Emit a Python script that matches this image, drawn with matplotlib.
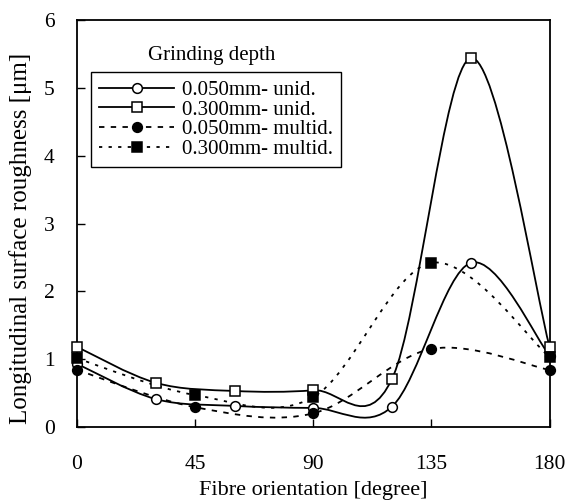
import matplotlib
matplotlib.use('Agg')
import matplotlib.pyplot as plt
import numpy as np
from matplotlib.path import Path
from matplotlib.patches import PathPatch

# 数据：纤维方向 vs 纵向表面粗糙度
x_unid = [0, 30, 60, 90, 120, 150, 180]
y_050_unid = [0.93, 0.41, 0.31, 0.28, 0.30, 2.42, 1.05]
y_300_unid = [1.18, 0.65, 0.53, 0.54, 0.71, 5.44, 1.18]

x_multid = [0, 45, 90, 135, 180]
y_050_multid = [0.84, 0.29, 0.20, 1.15, 0.84]
y_300_multid = [1.01, 0.47, 0.44, 2.42, 1.03]

labels = ['0.050mm- unid.', '0.300mm- unid.', '0.050mm- multid.', '0.300mm- multid.']
xticks = [0, 45, 90, 135, 180]
yticks = [0, 1, 2, 3, 4, 5, 6]

plt.rcParams['font.family'] = ['Liberation Serif', 'DejaVu Serif']
plt.rcParams['font.size'] = 15.5


def smooth_path(xs, ys):
    # Excel风格的平滑线 (Catmull-Rom -> Bezier)
    p = np.column_stack([xs, ys]).astype(float)
    n = len(p)
    verts = [p[0]]
    codes = [Path.MOVETO]
    for i in range(n - 1):
        p0 = p[i - 1] if i > 0 else p[i]
        p3 = p[i + 2] if i + 2 < n else p[i + 1]
        c1 = p[i] + (p[i + 1] - p0) / 6
        c2 = p[i + 1] - (p3 - p[i]) / 6
        verts += [c1, c2, p[i + 1]]
        codes += [Path.CURVE4] * 3
    return Path(verts, codes)


fig = plt.figure(figsize=(5.68, 5.04), dpi=100)
ax = fig.add_axes([0.1356, 0.153, 0.832, 0.807])

series = [
    (x_unid, y_050_unid, '-', 'o', 'white'),
    (x_unid, y_300_unid, '-', 's', 'white'),
    (x_multid, y_050_multid, (0, (3, 3.5)), 'o', 'black'),
    (x_multid, y_300_multid, (0, (1.8, 3.5)), 's', 'black'),
]

handles = []
for (xs, ys, ls, mk, fc), lab in zip(series, labels):
    patch = PathPatch(smooth_path(xs, ys), fill=False, edgecolor='black',
                      linewidth=1.3, linestyle=ls, zorder=2)
    ax.add_patch(patch)
    ax.plot(xs, ys, linestyle='none', marker=mk, markersize=7,
            markerfacecolor=fc, markeredgecolor='black', markeredgewidth=1.1,
            zorder=3, clip_on=False)
    h, = ax.plot([], [], color='black', linewidth=1.3, linestyle=ls, marker=mk,
                 markersize=7, markerfacecolor=fc, markeredgecolor='black',
                 markeredgewidth=1.1, label=lab)
    handles.append(h)

ax.set_xlim(0, 180)
ax.set_ylim(0, 6)
ax.set_xticks(xticks)
ax.set_yticks(yticks)
ax.tick_params(direction='in', length=6, width=1, pad=20)
ax.tick_params(axis='y', pad=16)
for s in ax.spines.values():
    s.set_linewidth(1.3)

ax.set_xlabel('Fibre orientation [degree]', fontsize=16, labelpad=5)
ax.set_ylabel('Longitudinal surface roughness [\u03bcm]', fontsize=18, labelpad=6)
ax.yaxis.set_label_coords(-0.095, 0.464)

leg = ax.legend(handles=handles, loc='upper left', bbox_to_anchor=(0.0296, 0.872),
                frameon=True, fancybox=False, edgecolor='black', framealpha=1,
                fontsize=15, handlelength=3.6, numpoints=1, labelspacing=0.0,
                borderpad=0.4, handletextpad=0.35, borderaxespad=0)
leg.get_frame().set_linewidth(1.0)
ax.text(0.285, 0.912, 'Grinding depth', transform=ax.transAxes,
        ha='center', va='center', fontsize=15)

fig.savefig('out.png', dpi=100)
